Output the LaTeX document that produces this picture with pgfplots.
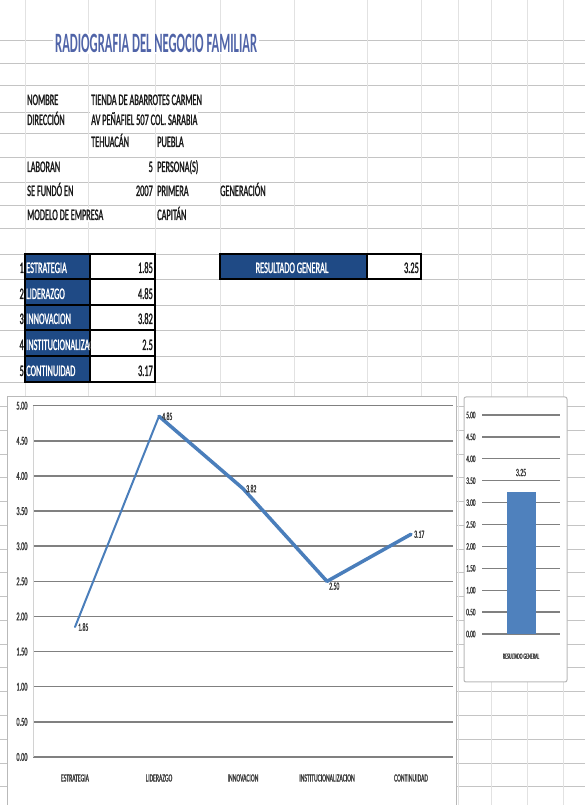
\documentclass[border=0pt]{standalone}
\usepackage{fontspec}
\setmainfont{Carlito}[FakeStretch=0.52, FakeBold=1.2]
\newfontfamily\titlef{Carlito}[FakeStretch=0.45]
\usepackage{pgfplots}
\pgfplotsset{compat=1.18}
\definecolor{navy}{HTML}{1F4A85}
\definecolor{lineblue}{HTML}{4A7EBB}
\definecolor{barblue}{HTML}{4F81BD}
\definecolor{titleblue}{HTML}{5064A8}
\definecolor{gridh}{HTML}{C4C4C4}
\definecolor{gridv}{HTML}{E2E2E2}
\definecolor{chartgrid}{HTML}{808080}
\definecolor{txt}{HTML}{1A1A1A}
\newcommand\fs[1]{\fontsize{#1}{#1}\selectfont}
\begin{document}
\begin{tikzpicture}
\path[use as bounding box, fill=white] (0,0) rectangle (585bp,805bp);
\begin{scope}[x=1bp,y=-1bp,yshift=805bp]
 \foreach \y in {40,63,85,112,133,157,182,205,228,254,279,305,330,356,382,406,430,454,477,501,525,549,572,596,620,644,667,691,715,739,763,786}
   \draw[gridh, line width=0.9bp] (0,\y) -- (585,\y);
 \foreach \x in {25,88,155,220,294,367,421,458,491,527,563}
   \draw[gridv, line width=0.9bp] (\x,0) -- (\x,805);
 % title
 \node[fill=white, inner xsep=2bp, inner ysep=1bp, anchor=base west, text=titleblue] at (53,53) {\titlef\fs{28bp}\bfseries RADIOGRAFIA DEL NEGOCIO FAMILIAR};
 % info rows
 \begin{scope}[every node/.style={anchor=base west, inner xsep=1bp, inner ysep=1.5bp, text=txt, font=\fs{16bp}}]
  \node at (26,105) {NOMBRE};
  \node[fill=white] at (90,105) {TIENDA DE ABARROTES CARMEN};
  \node at (26,125) {DIRECCIÓN};
  \node[fill=white] at (90,125) {AV PEÑAFIEL 507 COL. SARABIA};
  \node at (90,147) {TEHUACÁN};
  \node at (156,147) {PUEBLA};
  \node at (26,172) {LABORAN};
  \node[anchor=base east] at (154,172) {5};
  \node at (156,172) {PERSONA(S)};
  \node at (26,196) {SE FUNDÓ EN};
  \node[anchor=base east] at (154,196) {2007};
  \node at (156,196) {PRIMERA};
  \node at (219,196) {GENERACIÓN};
  \node[fill=white] at (26,220) {MODELO DE EMPRESA};
  \node at (156,220) {CAPITÁN};
 \end{scope}
 % table
 \foreach \t/\b/\lab/\val/\n in {254/279/ESTRATEGIA/1.85/1,279/305/LIDERAZGO/4.85/2,305/330/INNOVACION/3.82/3,330/356/INSTITUCIONALIZACION/2.5/4,356/382/CONTINUIDAD/3.17/5}{
   \fill[navy] (25,\t) rectangle (90,\b);
   \draw[black, line width=1.2bp] (25,\t) rectangle (155,\b);
   \draw[black, line width=1.2bp] (90,\t) -- (90,\b);
   \node[anchor=base east, inner sep=0pt, text=txt, font=\fs{16bp}] at (24,\b-6) {\n};
   \begin{scope}
     \clip (25,\t) rectangle (90,\b);
     \node[anchor=base west, inner sep=0pt, text=white, font=\fs{16bp}] at (26,\b-6) {\lab};
   \end{scope}
   \node[anchor=base east, inner sep=0pt, text=txt, font=\fs{16bp}] at (153,\b-6) {\val};
 }
 \fill[navy] (220,254) rectangle (367,279);
 \draw[black, line width=1.2bp] (220,254) rectangle (421,279);
 \draw[black, line width=1.2bp] (367,254) -- (367,279);
 \node[anchor=base, inner sep=0pt, text=white, font=\fs{16bp}] at (292,273) {RESULTADO GENERAL};
 \node[anchor=base east, inner sep=0pt, text=txt, font=\fs{16bp}] at (419,273) {3.25};
 % chart areas
 \draw[gray!55, fill=white, line width=1bp] (7,397) rectangle (456,812);
 \draw[gray!55, fill=white, line width=1bp, rounded corners=2bp] (464,397) rectangle (567,682);
\end{scope}

\begin{axis}[
 at={(33bp,48bp)}, anchor=south west, scale only axis,
 width=420bp, height=351.3bp,
 xmin=-0.5, xmax=4.5, ymin=0, ymax=5,
 axis lines=left, axis line style={-},
 x axis line style={draw=none},
 y axis line style={draw=gray!35, line width=0.8bp},
 ytick={0,0.5,1,1.5,2,2.5,3,3.5,4,4.5,5},
 yticklabels={0.00,0.50,1.00,1.50,2.00,2.50,3.00,3.50,4.00,4.50,5.00},
 xtick={0,1,2,3,4},
 xticklabels={ESTRATEGIA,LIDERAZGO,INNOVACION,INSTITUCIONALIZACION,CONTINUIDAD},
 major tick length=0pt,
 ymajorgrids, grid style={draw=chartgrid, line width=1.5bp},
 yticklabel style={font=\fs{12bp}, text=txt!85, xshift=-2bp},
 xticklabel style={font=\fs{11bp}, text=txt!85, yshift=-14bp, text height=7bp, text depth=1bp},
 clip=false,
]
\addplot[lineblue, line width=2bp, line cap=round] coordinates {(0,1.85) (1,4.85)};
\addplot[lineblue, line width=3.5bp, line join=round, line cap=round] coordinates {(1,4.85) (2,3.82) (3,2.5) (4,3.17)};
\addplot[draw=none, nodes near coords, point meta=explicit symbolic,
  every node near coord/.append style={anchor=west, font=\fs{11bp}, text=txt!85, inner sep=1bp, xshift=2bp}]
  coordinates {(0,1.85)[1.85] (1,4.85)[4.85] (2,3.82)[3.82] (4,3.17)[3.17]};
\addplot[draw=none, nodes near coords, point meta=explicit symbolic,
  every node near coord/.append style={anchor=north west, font=\fs{11bp}, text=txt!85, inner sep=1bp, xshift=1bp}]
  coordinates {(3,2.5)[2.50]};
\end{axis}

\begin{axis}[
 at={(482bp,171bp)}, anchor=south west, scale only axis,
 width=78bp, height=219bp,
 xmin=0, xmax=2, ymin=0, ymax=5,
 axis lines=left, axis line style={-},
 x axis line style={draw=none}, y axis line style={draw=none},
 ytick={0,0.5,1,1.5,2,2.5,3,3.5,4,4.5,5},
 yticklabels={0.00,0.50,1.00,1.50,2.00,2.50,3.00,3.50,4.00,4.50,5.00},
 xtick={1}, xticklabels={RESULTADO GENERAL},
 major tick length=0pt,
 ymajorgrids, grid style={draw=chartgrid, line width=1.3bp},
 yticklabel style={font=\fs{10bp}, text=txt!85, xshift=-3bp},
 xticklabel style={font=\fs{8bp}, text=txt!85, yshift=-16bp},
 clip=false,
]
\addplot[ybar, bar width=29bp, fill=barblue, draw=none, nodes near coords, point meta=explicit symbolic,
  every node near coord/.append style={font=\fs{11bp}, text=txt!85, yshift=12bp}]
  coordinates {(1,3.25)[3.25]};
\end{axis}
\end{tikzpicture}
\end{document}
